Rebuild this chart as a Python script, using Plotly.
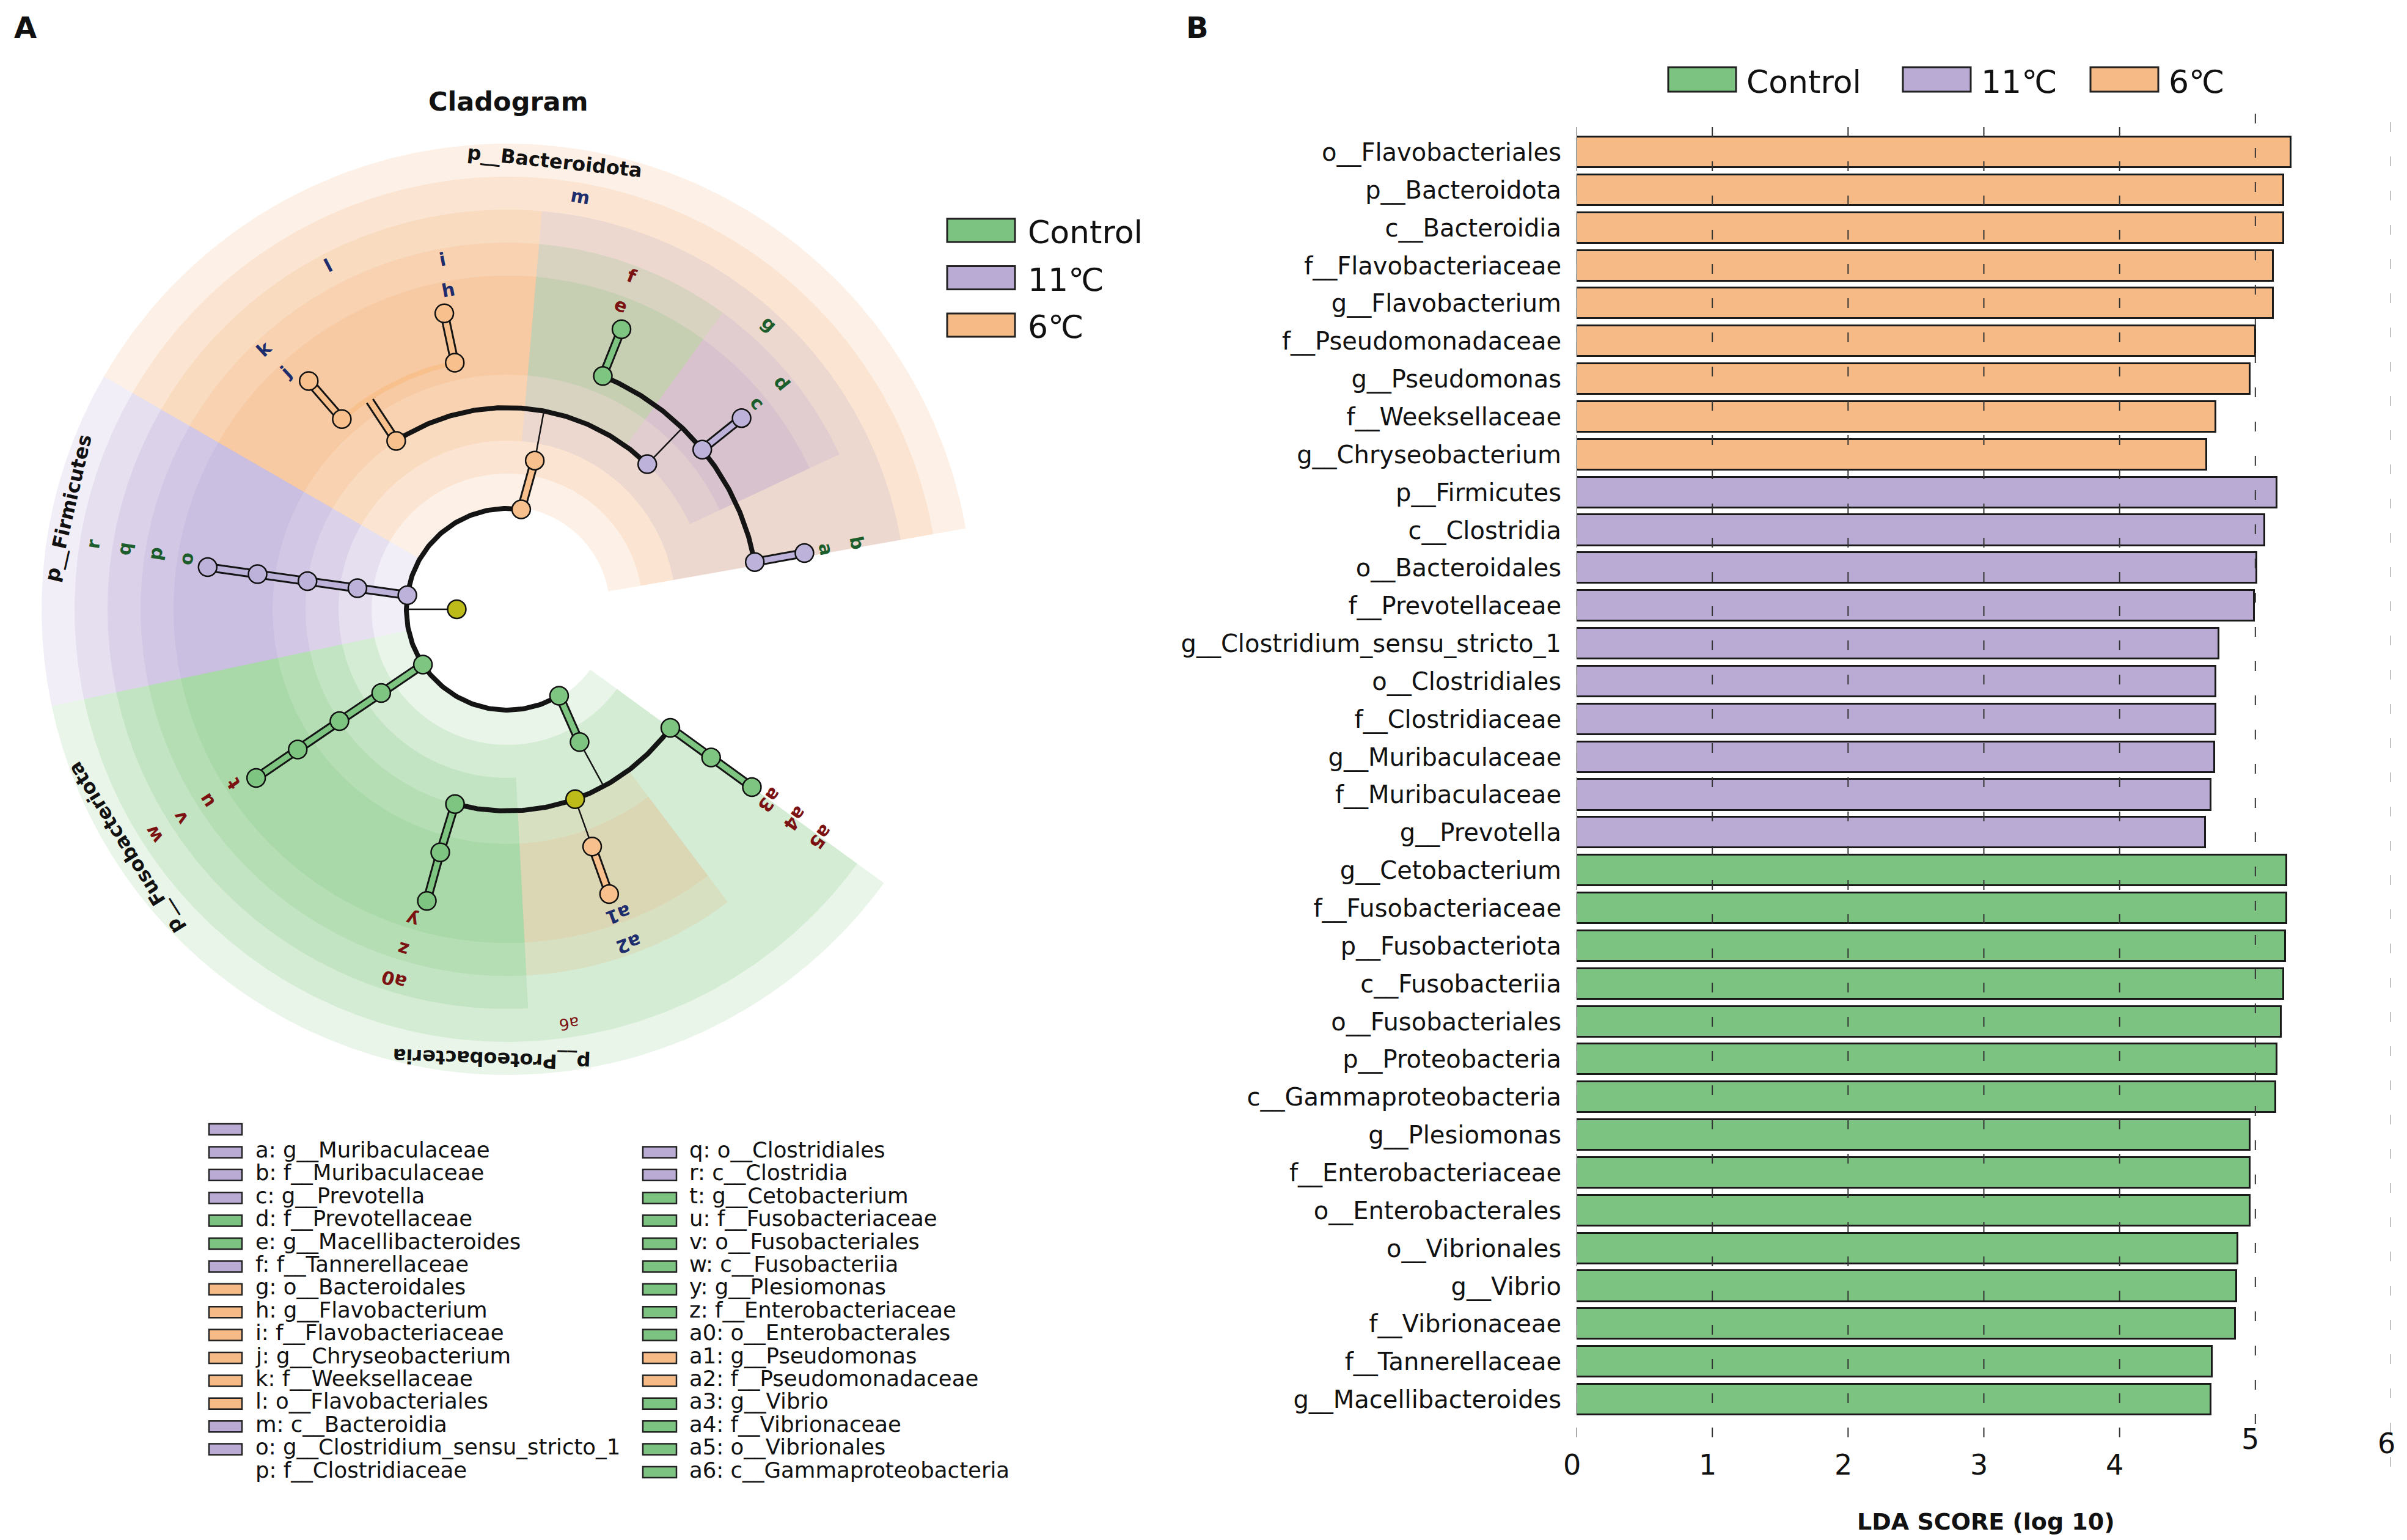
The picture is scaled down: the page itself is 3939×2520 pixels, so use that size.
import numpy as np
import plotly.graph_objects as go
from collections import defaultdict

W, H = 3939, 2520
FONT = "DejaVu Sans"
OFF = 8  # page body margin compensation (px)

# ------------------------------------------------------------------ data
groups = ["Control", "11℃", "6℃"]

lda_taxa = [
    "o__Flavobacteriales", "p__Bacteroidota", "c__Bacteroidia", "f__Flavobacteriaceae",
    "g__Flavobacterium", "f__Pseudomonadaceae", "g__Pseudomonas", "f__Weeksellaceae",
    "g__Chryseobacterium",
    "p__Firmicutes", "c__Clostridia", "o__Bacteroidales", "f__Prevotellaceae",
    "g__Clostridium_sensu_stricto_1", "o__Clostridiales", "f__Clostridiaceae",
    "g__Muribaculaceae", "f__Muribaculaceae", "g__Prevotella",
    "g__Cetobacterium", "f__Fusobacteriaceae", "p__Fusobacteriota", "c__Fusobacteriia",
    "o__Fusobacteriales", "p__Proteobacteria", "c__Gammaproteobacteria", "g__Plesiomonas",
    "f__Enterobacteriaceae", "o__Enterobacterales", "o__Vibrionales", "g__Vibrio",
    "f__Vibrionaceae", "f__Tannerellaceae", "g__Macellibacteroides",
]
lda_scores = [
    5.26, 5.21, 5.21, 5.13, 5.13, 5.00, 4.96, 4.71, 4.64,
    5.16, 5.07, 5.01, 4.99, 4.73, 4.71, 4.71, 4.70, 4.67, 4.63,
    5.23, 5.23, 5.22, 5.21, 5.19, 5.16, 5.15, 4.96, 4.96, 4.96, 4.87, 4.86, 4.85, 4.68, 4.67,
]
lda_groups = ["6℃"] * 9 + ["11℃"] * 10 + ["Control"] * 15

x_ticks = [0, 1, 2, 3, 4, 5, 6]
x_title = "LDA SCORE (log 10)"

# cladogram taxonomy (child -> parent) and legend letters
clade_names = [
    "p__Bacteroidota", "c__Bacteroidia", "o__Flavobacteriales", "f__Weeksellaceae",
    "g__Chryseobacterium", "f__Flavobacteriaceae", "g__Flavobacterium", "o__Bacteroidales",
    "f__Tannerellaceae", "g__Macellibacteroides", "f__Prevotellaceae", "g__Prevotella",
    "f__Muribaculaceae", "g__Muribaculaceae",
    "p__Firmicutes", "c__Clostridia", "o__Clostridiales", "f__Clostridiaceae",
    "g__Clostridium_sensu_stricto_1",
    "p__Fusobacteriota", "c__Fusobacteriia", "o__Fusobacteriales", "f__Fusobacteriaceae",
    "g__Cetobacterium",
    "p__Proteobacteria", "c__Gammaproteobacteria", "o__Enterobacterales",
    "f__Enterobacteriaceae", "g__Plesiomonas", "o__Pseudomonadales", "f__Pseudomonadaceae",
    "g__Pseudomonas", "o__Vibrionales", "f__Vibrionaceae", "g__Vibrio",
]
clade_parents = [
    "root", "p__Bacteroidota", "c__Bacteroidia", "o__Flavobacteriales",
    "f__Weeksellaceae", "o__Flavobacteriales", "f__Flavobacteriaceae", "c__Bacteroidia",
    "o__Bacteroidales", "f__Tannerellaceae", "o__Bacteroidales", "f__Prevotellaceae",
    "o__Bacteroidales", "f__Muribaculaceae",
    "root", "p__Firmicutes", "c__Clostridia", "o__Clostridiales", "f__Clostridiaceae",
    "root", "p__Fusobacteriota", "c__Fusobacteriia", "o__Fusobacteriales",
    "f__Fusobacteriaceae",
    "root", "p__Proteobacteria", "c__Gammaproteobacteria", "o__Enterobacterales",
    "f__Enterobacteriaceae", "c__Gammaproteobacteria", "o__Pseudomonadales",
    "f__Pseudomonadaceae", "c__Gammaproteobacteria", "o__Vibrionales", "f__Vibrionaceae",
]
clade_letters = [
    "", "m", "l", "k", "j", "i", "h", "g", "f", "e", "d", "c", "b", "a",
    "", "r", "q", "p", "o",
    "", "w", "v", "u", "t",
    "", "a6", "a0", "z", "y", "", "a2", "a1", "a5", "a4", "a3",
]
legend_left = ["a", "b", "c", "d", "e", "f", "g", "h", "i", "j", "k", "l", "m", "o", "p"]
legend_left_boxes = ["11℃", "11℃", "11℃", "11℃", "Control", "Control", "11℃", "6℃",
                     "6℃", "6℃", "6℃", "6℃", "6℃", "11℃", "11℃"]
legend_right = ["q", "r", "t", "u", "v", "w", "y", "z", "a0", "a1", "a2", "a3", "a4", "a5", "a6"]
legend_right_boxes = ["11℃", "11℃", "Control", "Control", "Control", "Control", "Control",
                      "Control", "Control", "6℃", "6℃", "Control", "Control", "Control", "Control"]

# ------------------------------------------------------------------ styles / layout
BAR_COL = {"Control": "#7CC280", "11℃": "#B9ABD3", "6℃": "#F5BA85"}
NODE_COL = {"Control": "#7DC581", "11℃": "#BDB2DA", "6℃": "#F8C08C", None: "#BDBB1A"}
WEDGE_RGB = {"Control": (100, 190, 100), "11℃": (160, 140, 200), "6℃": (244, 164, 96)}
LABEL_COL = {"Control": "#7B1111", "11℃": "#1B5E2B", "6℃": "#1C2C6C"}
WEDGE_ALPHA = 0.15
SMALL_LABELS = {"a6"}

# cladogram placement (degrees counter-clockwise from east): node angle, shaded span
CLADE_LAYOUT = {
    "root": (180, None),
    "p__Bacteroidota": (82, (10, 150)), "c__Bacteroidia": (79.5, (10, 150)),
    "o__Flavobacteriales": (123.4, (85, 150)),
    "f__Weeksellaceae": (131, (116, 150)), "g__Chryseobacterium": (131, (116, 150)),
    "f__Flavobacteriaceae": (102, (85, 116)), "g__Flavobacterium": (102, (85, 116)),
    "o__Bacteroidales": (46, (10, 85)),
    "f__Tannerellaceae": (67.7, (54, 85)), "g__Macellibacteroides": (67.8, (54, 85)),
    "f__Prevotellaceae": (39.3, (25, 54)), "g__Prevotella": (39.2, (25, 54)),
    "f__Muribaculaceae": (10.8, None), "g__Muribaculaceae": (10.7, None),
    "p__Firmicutes": (172, (150, 192)), "c__Clostridia": (172, (150, 192)),
    "o__Clostridiales": (172, (150, 192)), "f__Clostridiaceae": (172, (150, 192)),
    "g__Clostridium_sensu_stricto_1": (172, (150, 192)),
    "p__Fusobacteriota": (213.3, (192, 233)), "c__Fusobacteriia": (213.6, (192, 233)),
    "o__Fusobacteriales": (213.7, (192, 233)), "f__Fusobacteriaceae": (213.8, (192, 233)),
    "g__Cetobacterium": (213.9, (192, 233)),
    "p__Proteobacteria": (301, (233, 324)), "c__Gammaproteobacteria": (298.6, (233, 324)),
    "o__Enterobacterales": (255, (233, 273)), "f__Enterobacteriaceae": (254.6, (233, 273)),
    "g__Plesiomonas": (254.6, (233, 273)),
    "o__Pseudomonadales": (289.7, (273, 307)), "f__Pseudomonadaceae": (289.7, (273, 307)),
    "g__Pseudomonas": (289.7, (273, 307)),
    "o__Vibrionales": (324, None), "f__Vibrionaceae": (324, None), "g__Vibrio": (324, None),
}
PHYLUM_LABEL_ANGLE = {"p__Bacteroidota": 84, "p__Firmicutes": 167,
                      "p__Fusobacteriota": 212, "p__Proteobacteria": 268}

CX, CY = 830, 997            # centre of the cladogram (px, target picture)
STEP = 82.5


def r_node(level):
    return STEP * (level + 1)


def r_label(level):
    return 737 - 51.5 * (level - 1)


def wedge_radii(level):
    return 168 + 54 * (level - 1), 762 - 54 * (level - 1)


def pol(r, deg):
    t = np.deg2rad(deg)
    return r * np.cos(t), r * np.sin(t)


def px(x):
    return (x - OFF) / W


def py(y):
    return 1 - (y - OFF) / H


fig = go.Figure()

# ------------------------------------------------------------------ panel B : bars
for g in groups:
    idx = [i for i, gg in enumerate(lda_groups) if gg == g]
    fig.add_trace(go.Bar(
        x=[lda_scores[i] for i in idx], y=idx, orientation="h", width=0.81,
        marker=dict(color=BAR_COL[g], line=dict(color="#1a1a1a", width=3)),
        name=g, showlegend=False, xaxis="x", yaxis="y", hoverinfo="x+y"))

X0_PX, X6_PX = 2580, 3913
TOP_C, SPACING = 249, 61.85
y_lo = -(TOP_C - OFF) / SPACING
y_hi = y_lo + H / SPACING

shapes = []
annotations = []

grid_extent = {0: (190, 2352), 1: (190, 2352), 2: (190, 2352), 3: (190, 2352),
               4: (190, 2352), 5: (157, 2330), 6: (190, 2400)}
label_y = {0: 2397, 1: 2397, 2: 2397, 3: 2397, 4: 2397, 5: 2355, 6: 2362}
for v in x_ticks:
    y0, y1 = grid_extent[v]
    shapes.append(dict(type="line", xref="x", yref="paper", x0=v, x1=v,
                       y0=py(y1), y1=py(y0), layer="above",
                       line=dict(color="#333333" if v < 6 else "#888888", width=2,
                                 dash="16px,40px")))
    annotations.append(dict(x=v, y=py(label_y[v]), xref="x", yref="paper", text=str(v),
                            showarrow=False, xanchor="center", yanchor="middle", xshift=-8,
                            font=dict(family=FONT, size=46, color="#111")))
annotations.append(dict(x=px(3250), y=py(2490), xref="paper", yref="paper",
                        text="<b>" + x_title + "</b>", showarrow=False,
                        xanchor="center", yanchor="middle",
                        font=dict(family=FONT, size=38, color="#111")))

# bar legend (manual, top)
bar_leg_x = [2730, 3114, 3421]
for g, bx in zip(groups, bar_leg_x):
    shapes.append(dict(type="rect", xref="paper", yref="paper", x0=px(bx), x1=px(bx + 111),
                       y0=py(150), y1=py(110), fillcolor=BAR_COL[g],
                       line=dict(color="#222", width=3)))
    annotations.append(dict(x=px(bx + 126), y=py(134), xref="paper", yref="paper", text=g,
                            showarrow=False, xanchor="left", yanchor="middle",
                            font=dict(family=FONT, size=52, color="#111")))

# ------------------------------------------------------------------ panel A : cladogram
grp_of = dict(zip(lda_taxa, lda_groups))
level = {"root": 0}
for n, p in zip(clade_names, clade_parents):
    level[n] = level[p] + 1
grp = {n: grp_of.get(n) for n in clade_names}
grp["root"] = None
ang = {k: v[0] for k, v in CLADE_LAYOUT.items()}

# shaded wedges
for n in clade_names:
    span = CLADE_LAYOUT[n][1]
    if grp[n] is None or span is None:
        continue
    r0, r1 = wedge_radii(level[n])
    a = np.linspace(span[0], span[1], 160)
    xo, yo = pol(r1, a)
    xi, yi = pol(r0, a[::-1])
    rgb = WEDGE_RGB[grp[n]]
    fig.add_trace(go.Scatter(
        x=np.concatenate([xo, xi, xo[:1]]), y=np.concatenate([yo, yi, yo[:1]]),
        mode="lines", fill="toself", line=dict(width=0),
        fillcolor="rgba(%d,%d,%d,%.2f)" % (rgb + (WEDGE_ALPHA,)),
        hoverinfo="skip", showlegend=False, xaxis="x2", yaxis="y2"))

# edges
children = defaultdict(list)
for n, p in zip(clade_names, clade_parents):
    children[p].append(n)

thick, thin = [], []
col_segs = defaultdict(list)
col_arcs = defaultdict(list)
for p, ch in children.items():
    rp, tp = r_node(level[p]), ang[p]
    rc = r_node(level[p] + 1)
    same = grp[p] is not None and all(grp[c] == grp[p] for c in ch)
    if len(ch) == 1:
        c = ch[0]
        seg = [pol(rp, tp), pol(rc, ang[c])]
        (col_segs[grp[p]] if same else thin).append(seg)
    else:
        angs = [ang[c] for c in ch] + [tp]
        a = np.linspace(min(angs), max(angs), 200)
        ax, ay = pol(rc, a)
        arc = list(zip(ax, ay))
        if same:
            col_segs[grp[p]].append([pol(rp, tp), pol(rc, tp)])
            col_arcs[grp[p]].append(arc)
        else:
            thin.append([pol(rp, tp), pol(rc, tp)])
            thick.append(arc)


def flat(lines):
    xs, ys = [], []
    for ln in lines:
        for (x, y) in ln:
            xs.append(x)
            ys.append(y)
        xs.append(None)
        ys.append(None)
    return xs, ys


def add_lines(lines, color, width):
    xs, ys = flat(lines)
    fig.add_trace(go.Scatter(x=xs, y=ys, mode="lines", line=dict(color=color, width=width),
                             hoverinfo="skip", showlegend=False, xaxis="x2", yaxis="y2"))


add_lines(thick, "#141414", 8)
add_lines(thin, "#141414", 2.5)
all_col = [s for g in col_segs for s in col_segs[g]]
add_lines(all_col, "#141414", 15)
for g, segs in col_segs.items():
    add_lines(segs, NODE_COL[g], 9)
for g, arcs in col_arcs.items():
    add_lines(arcs, NODE_COL[g], 8)

# nodes
node_keys = ["root"] + clade_names
for g in [None] + groups:
    ks = [k for k in node_keys if grp[k] == g]
    xy = [pol(r_node(level[k]), ang[k]) for k in ks]
    fig.add_trace(go.Scatter(
        x=[q[0] for q in xy], y=[q[1] for q in xy], mode="markers",
        marker=dict(size=30, color=NODE_COL[g], line=dict(color="#111", width=2.5)),
        hoverinfo="skip", showlegend=False, xaxis="x2", yaxis="y2"))


def tangent_angle(deg):
    t = 90 - deg
    while t <= -180:
        t += 360
    while t > 180:
        t -= 360
    return t


# labels on the ring
for n, letter in zip(clade_names, clade_letters):
    lv = level[n]
    if lv == 1:
        a = PHYLUM_LABEL_ANGLE[n]
        text, color, size = "<b>" + n + "</b>", "#111", 32
    else:
        if not letter:
            continue
        span = CLADE_LAYOUT[n][1]
        a = (span[0] + span[1]) / 2 if span else ang[n]
        if letter in SMALL_LABELS:
            text, size = letter, 26
        else:
            text, size = "<b>" + letter + "</b>", 30
        color = LABEL_COL[grp[n]]
    x, y = pol(r_label(lv), a)
    annotations.append(dict(x=x, y=y, xref="x2", yref="y2", text=text, showarrow=False,
                            textangle=tangent_angle(a), xanchor="center", yanchor="middle",
                            font=dict(family=FONT, size=size, color=color)))

# cladogram group legend (upper right of panel A)
for i, g in enumerate(groups):
    top = 358 + 77.5 * i
    shapes.append(dict(type="rect", xref="paper", yref="paper", x0=px(1550), x1=px(1661),
                       y0=py(top + 38), y1=py(top), fillcolor=BAR_COL[g],
                       line=dict(color="#222", width=3)))
    annotations.append(dict(x=px(1680), y=py(top + 22), xref="paper", yref="paper", text=g,
                            showarrow=False, xanchor="left", yanchor="middle",
                            font=dict(family=FONT, size=52, color="#111")))

# letter legend (bottom of panel A)
name_of = dict(zip(clade_letters, clade_names))
ROW0, ROWH = 1848, 37.4
for k, g in enumerate(legend_left_boxes):
    cy = ROW0 + ROWH * k
    shapes.append(dict(type="rect", xref="paper", yref="paper", x0=px(342), x1=px(396),
                       y0=py(cy + 9), y1=py(cy - 9), fillcolor=BAR_COL[g],
                       line=dict(color="#222", width=2.5)))
for j, L in enumerate(legend_left, start=1):
    annotations.append(dict(x=px(416), y=py(ROW0 + ROWH * j - 4), xref="paper", yref="paper",
                            text=L + ": " + name_of[L], showarrow=False, xanchor="left",
                            yanchor="middle", font=dict(family=FONT, size=35.5, color="#111")))
for j, (L, g) in enumerate(zip(legend_right, legend_right_boxes), start=1):
    cy = ROW0 + ROWH * j
    shapes.append(dict(type="rect", xref="paper", yref="paper", x0=px(1052), x1=px(1107),
                       y0=py(cy + 9), y1=py(cy - 9), fillcolor=BAR_COL[g],
                       line=dict(color="#222", width=2.5)))
    annotations.append(dict(x=px(1126), y=py(cy - 4), xref="paper", yref="paper",
                            text=L + ": " + name_of[L], showarrow=False, xanchor="left",
                            yanchor="middle", font=dict(family=FONT, size=35.5, color="#111")))

# titles / panel letters
annotations.append(dict(x=px(831), y=py(166), xref="paper", yref="paper",
                        text="<b>Cladogram</b>", showarrow=False,
                        xanchor="center", yanchor="middle",
                        font=dict(family=FONT, size=43, color="#111")))
annotations.append(dict(x=px(41), y=py(45), xref="paper", yref="paper", text="<b>A</b>",
                        showarrow=False, xanchor="center", yanchor="middle",
                        font=dict(family=FONT, size=48, color="#111")))
annotations.append(dict(x=px(1959), y=py(45), xref="paper", yref="paper", text="<b>B</b>",
                        showarrow=False, xanchor="center", yanchor="middle",
                        font=dict(family=FONT, size=48, color="#111")))

# cladogram axes: 1 data unit = 1 px, origin at the cladogram centre
cx0 = CX - OFF
cy0 = CY - OFF

fig.update_layout(
    width=W, height=H, autosize=False,
    margin=dict(l=0, r=0, t=0, b=0),
    paper_bgcolor="white", plot_bgcolor="rgba(0,0,0,0)",
    barmode="overlay", bargap=0,
    xaxis=dict(domain=[px(X0_PX), px(X6_PX)], range=[0, 6], showgrid=False, zeroline=False,
               showline=False, showticklabels=False, anchor="y"),
    yaxis=dict(domain=[0, 1], range=[y_hi, y_lo], tickvals=list(range(len(lda_taxa))),
               ticktext=lda_taxa, showgrid=False, zeroline=False, showline=False, ticks="",
               ticklabelstandoff=24, tickfont=dict(family=FONT, size=40, color="#111"),
               anchor="x"),
    xaxis2=dict(domain=[0, 1900 / W], range=[-cx0, 1900 - cx0], visible=False, anchor="y2"),
    yaxis2=dict(domain=[0, 1], range=[cy0 - H, cy0], visible=False, anchor="x2"),
    shapes=shapes, annotations=annotations,
    showlegend=False,
)

fig.write_html("out.html")
